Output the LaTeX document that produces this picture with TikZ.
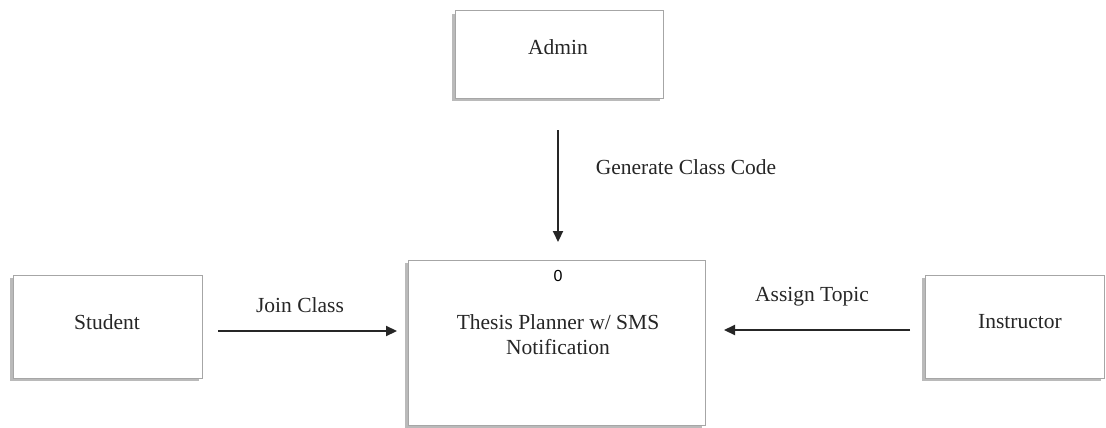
\documentclass[tikz,border=0pt]{standalone}
\usepackage{fontspec}
\setmainfont{Liberation Serif}
\newfontfamily\numfont{Liberation Sans}
\usetikzlibrary{arrows.meta,shadows}

\begin{document}
\begin{tikzpicture}[x=1pt,y=-1pt,line width=1.6pt,draw=black!80]
    \tikzstyle{entity}=[rectangle,draw=black!35,line width=1pt,fill=white,
        drop shadow={shadow xshift=-3pt,shadow yshift=-3pt,opacity=.45,fill=black!60},
        font=\fontsize{21}{25}\selectfont]
    \tikzstyle{flow}=[-{Triangle[length=11pt,width=10pt]},line width=2.2pt,draw=black!85]
    \tikzstyle{flow label}=[font=\fontsize{21.5}{25}\selectfont,text=black!85]
    \useasboundingbox (0,0) rectangle (1106,428);
    \path
    % External entities
    (559,54.5)   node[entity,minimum width=208pt,minimum height=87pt,text depth=0pt] (admin) {}
    (107.5,326.5) node[entity,minimum width=189pt,minimum height=103pt] (student) {}
    (1014.5,326.5) node[entity,minimum width=179pt,minimum height=103pt] (instructor) {}

    % Process
    (556.5,342.5) node[entity,minimum width=297pt,minimum height=165pt] (process) {};

    % Texts of the boxes
    \node[flow label] (admintext) at (558,47) {Admin};
    \node[flow label] (studenttext) at (107,322) {Student};
    \node[flow label] (instructortext) at (1020,322) {Instructor};
    \node[font=\numfont\fontsize{16}{18}\selectfont] (procno) at (558,276) {0};
    \node[flow label,align=center] (proctext) at (558,335) {Thesis Planner w/ SMS\\Notification};

    % Ends of the data flows
    \coordinate (admin out) at (558,130);
    \coordinate (admin in) at (558,242);
    \coordinate (student out) at (218,331);
    \coordinate (student in) at (397,331);
    \coordinate (instructor out) at (910,330);
    \coordinate (instructor in) at (724,330);

    % Data flows
    \draw[flow] (admin out)--(admin in);
    \draw[flow] (student out)--(student in);
    \draw[flow] (instructor out)--(instructor in);
    \node[flow label] (admin flow) at (686,167) {Generate Class Code};
    \node[flow label] (student flow) at (300,305) {Join Class};
    \node[flow label] (instructor flow) at (812,297) {Assign Topic};
\end{tikzpicture}
\end{document}
